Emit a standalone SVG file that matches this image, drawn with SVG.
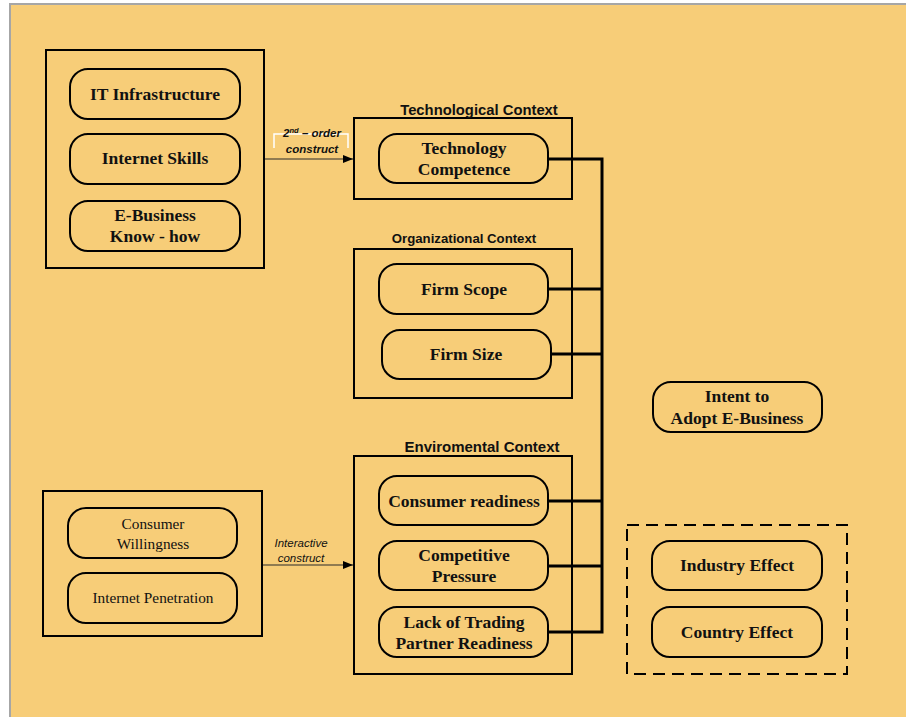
<svg xmlns="http://www.w3.org/2000/svg" width="906" height="717" viewBox="0 0 906 717">
<style>
.grp{fill:none;stroke:#000;stroke-width:2}
.pill{fill:none;stroke:#000;stroke-width:2}
.bt{font-family:"Liberation Serif",serif;font-weight:bold;font-size:17.5px;fill:#111;text-anchor:middle}
.rt{font-family:"Liberation Serif",serif;font-size:15.3px;fill:#111;text-anchor:middle}
.st{font-family:"Liberation Sans",sans-serif;font-weight:bold;fill:#111;text-anchor:middle}
.it{font-family:"Liberation Sans",sans-serif;font-style:italic;font-size:11.5px;fill:#111;text-anchor:middle}
.thick{fill:none;stroke:#000;stroke-width:3}
.thin{fill:none;stroke:#2a2a2a;stroke-width:1.2}
</style>
<defs>
<marker id="ah" markerWidth="10" markerHeight="8" refX="10" refY="4" orient="auto" markerUnits="userSpaceOnUse">
<path d="M0,0 L10,4 L0,8 Z" fill="#000"/>
</marker>
</defs>
<rect x="0" y="0" width="906" height="717" fill="#fff"/>
<rect x="10" y="4" width="896" height="713" fill="#F7CD78"/>
<path d="M10,717 V4 H906" fill="none" stroke="#a6a6a6" stroke-width="2"/>

<g id="connectors">
<path class="thin" d="M264,159 H353" marker-end="url(#ah)"/>
<path class="thin" d="M262,565 H353" marker-end="url(#ah)"/>
<path class="thick" d="M548,159 H602 V632 H548"/>
<path class="thick" d="M548,289 H602"/>
<path class="thick" d="M551,354 H602"/>
<path class="thick" d="M548,501 H602"/>
<path class="thick" d="M548,566 H602"/>
<path d="M274,148 V134 H348 V148" fill="none" stroke="#fff" stroke-width="1.5"/>
<text class="it" x="312" y="137" font-weight="bold">2<tspan font-size="7.5" dy="-4">nd</tspan><tspan dy="4"> – order</tspan></text>
<text class="it" x="312" y="153" font-weight="bold" font-size="11">construct</text>
<text class="it" x="301" y="547" font-size="12">Interactive</text>
<text class="it" x="301" y="562" font-size="12">construct</text>
</g>

<g id="it-group">
<rect class="grp" x="46" y="50" width="218" height="218"/>
</g>
<g id="it-infrastructure">
<rect class="pill" x="70" y="69" width="170" height="50" rx="18"/>
<text class="bt" x="155" y="100">IT Infrastructure</text>
</g>
<g id="internet-skills">
<rect class="pill" x="70" y="134" width="170" height="50" rx="18"/>
<text class="bt" x="155" y="164">Internet Skills</text>
</g>
<g id="ebusiness-knowhow">
<rect class="pill" x="70" y="201" width="170" height="50" rx="18"/>
<text class="bt" x="155" y="221">E-Business</text>
<text class="bt" x="155" y="242">Know - how</text>
</g>

<g id="technological-context">
<rect class="grp" x="354" y="118" width="218" height="81"/>
<text class="st" x="479" y="115" font-size="14.8">Technological Context</text>
</g>
<g id="technology-competence">
<rect class="pill" x="379" y="134" width="169" height="49" rx="18"/>
<text class="bt" x="464" y="154">Technology</text>
<text class="bt" x="464" y="175">Competence</text>
</g>

<g id="organizational-context">
<rect class="grp" x="354" y="249" width="218" height="149"/>
<text class="st" x="464" y="243" font-size="13.2">Organizational Context</text>
</g>
<g id="firm-scope">
<rect class="pill" x="379" y="264" width="169" height="50" rx="18"/>
<text class="bt" x="464" y="295">Firm Scope</text>
</g>
<g id="firm-size">
<rect class="pill" x="382" y="330" width="169" height="49" rx="18"/>
<text class="bt" x="466" y="360">Firm Size</text>
</g>

<g id="environmental-context">
<rect class="grp" x="354" y="456" width="218" height="218"/>
<text class="st" x="482" y="452" font-size="15">Enviromental Context</text>
</g>
<g id="consumer-readiness">
<rect class="pill" x="379" y="476" width="169" height="49" rx="18"/>
<text class="bt" x="464" y="507">Consumer readiness</text>
</g>
<g id="competitive-pressure">
<rect class="pill" x="379" y="541" width="169" height="49" rx="18"/>
<text class="bt" x="464" y="561">Competitive</text>
<text class="bt" x="464" y="582">Pressure</text>
</g>
<g id="lack-of-trading">
<rect class="pill" x="379" y="607" width="169" height="50" rx="18"/>
<text class="bt" x="464" y="628">Lack of Trading</text>
<text class="bt" x="464" y="649">Partner Readiness</text>
</g>

<g id="intent-to-adopt">
<rect class="pill" x="653" y="382" width="169" height="50" rx="18"/>
<text class="bt" x="737" y="402">Intent to</text>
<text class="bt" x="737" y="424">Adopt E-Business</text>
</g>

<g id="control-group">
<rect x="627" y="525" width="220" height="149" fill="none" stroke="#000" stroke-width="2" stroke-dasharray="12,7"/>
</g>
<g id="industry-effect">
<rect class="pill" x="652" y="541" width="170" height="49" rx="18"/>
<text class="bt" x="737" y="571" font-size="14">Industry Effect</text>
</g>
<g id="country-effect">
<rect class="pill" x="652" y="607" width="170" height="50" rx="18"/>
<text class="bt" x="737" y="638" font-size="14">Country Effect</text>
</g>

<g id="consumer-group">
<rect class="grp" x="43" y="491" width="219" height="145"/>
</g>
<g id="consumer-willingness">
<rect class="pill" x="68" y="508" width="169" height="50" rx="18"/>
<text class="rt" x="153" y="529">Consumer</text>
<text class="rt" x="153" y="549">Willingness</text>
</g>
<g id="internet-penetration">
<rect class="pill" x="68" y="573" width="169" height="50" rx="18"/>
<text class="rt" x="153" y="603">Internet Penetration</text>
</g>
</svg>
